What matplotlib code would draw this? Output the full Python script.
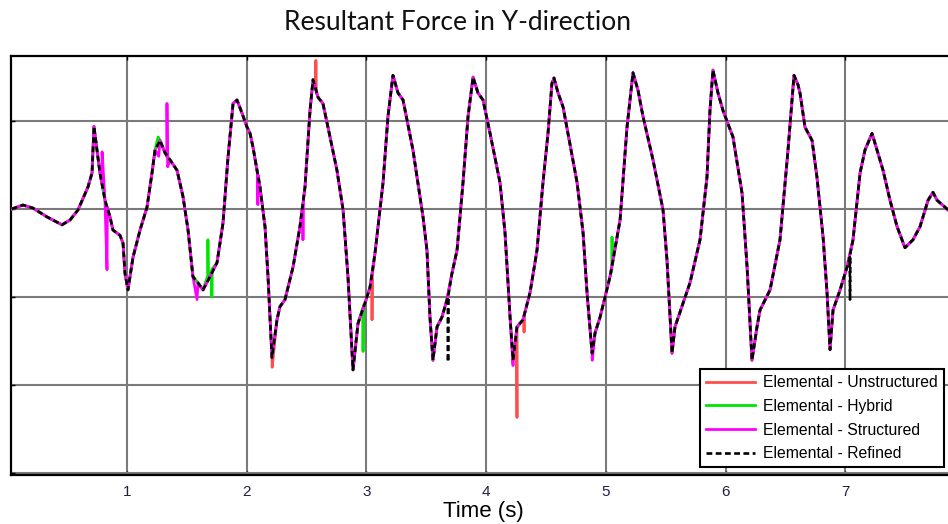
import matplotlib
matplotlib.use("Agg")
import matplotlib.pyplot as plt

# Resultant force history (time in s, force in arbitrary units), shared by all meshes
time = [0.037, 0.131, 0.215, 0.332, 0.457, 0.524, 0.591, 0.674, 0.708, 0.724,
        0.749, 0.774, 0.816, 0.858, 0.883, 0.942, 0.967, 0.983, 1.008, 1.050,
        1.109, 1.167, 1.209, 1.234, 1.276, 1.317, 1.359, 1.418, 1.468, 1.510,
        1.551, 1.593, 1.635, 1.693, 1.752, 1.802, 1.844, 1.886, 1.919, 1.961,
        2.003, 2.028, 2.053, 2.111, 2.153, 2.178, 2.211, 2.253, 2.278, 2.320,
        2.387, 2.445, 2.487, 2.529, 2.554, 2.596, 2.637, 2.679, 2.754, 2.805,
        2.846, 2.888, 2.930, 2.988, 3.030, 3.072, 3.139, 3.180, 3.222, 3.264,
        3.306, 3.389, 3.473, 3.506, 3.531, 3.556, 3.590, 3.631, 3.673, 3.715,
        3.757, 3.807, 3.849, 3.891, 3.932, 3.974, 4.033, 4.116, 4.158, 4.200,
        4.225, 4.258, 4.308, 4.367, 4.425, 4.475, 4.517, 4.550, 4.567, 4.601,
        4.643, 4.684, 4.760, 4.810, 4.843, 4.885, 4.910, 4.952, 5.035, 5.119,
        5.177, 5.227, 5.269, 5.311, 5.394, 5.478, 5.511, 5.553, 5.578, 5.645,
        5.703, 5.787, 5.845, 5.870, 5.895, 5.937, 5.979, 6.062, 6.138, 6.180,
        6.221, 6.263, 6.288, 6.372, 6.455, 6.522, 6.555, 6.572, 6.606, 6.622,
        6.664, 6.723, 6.764, 6.815, 6.848, 6.873, 6.898, 6.957, 7.015, 7.065,
        7.124, 7.165, 7.224, 7.266, 7.316, 7.374, 7.433, 7.499, 7.566, 7.625,
        7.692, 7.733, 7.767, 7.859]
force = [0, 4.5, 1, -9, -18, -12.5, -1, 25, 41, 94,
         67, 41, 10, -9, -24, -30, -39, -73, -92, -55,
         -24, 2, 41, 67, 78, 64, 56, 44, 14, -24,
         -77, -84, -92, -77, -61, -16, 59, 120, 124, 109,
         93, 86, 70, 25, -20, -77, -169, -126, -111, -103,
         -66, -20, 25, 112, 147, 127, 120, 93, 44, -1,
         -77, -183, -130, -107, -89, -50, 30, 105, 152, 132,
         124, 67, -9, -47, -123, -172, -134, -123, -103, -73,
         -47, 30, 105, 150, 132, 124, 86, 30, -27, -123,
         -172, -134, -126, -95, -47, 30, 86, 143, 149, 132,
         116, 86, 30, -27, -95, -164, -141, -123, -77, -12.5,
         93, 155, 135, 105, 56, -1, -58, -164, -134, -107,
         -84, -35, 36, 112, 158, 132, 112, 82, 18, -66,
         -172, -134, -115, -92, -35, 67, 124, 152, 141, 132,
         93, 78, 36, -32, -95, -160, -115, -92, -66, -35,
         41, 67, 86, 67, 44, 10, -20, -44, -35, -20,
         10, 19, 10, -1]

# Extra samples where each mesh departs from the common history (time, force)
unstructured_extra = [(2.213, -180), (2.575, 140), (2.578, 169), (2.582, 132),
                      (3.045, -80), (3.047, -126), (3.050, -75),
                      (4.255, -140), (4.258, -237), (4.262, -134),
                      (4.314, -122), (4.317, -140), (4.320, -120)]
hybrid_extra = [(1.260, 82), (1.674, -76), (1.676, -35), (1.680, -78),
                (1.707, -70), (1.709, -100), (1.712, -68),
                (2.970, -112), (2.972, -162), (2.975, -110),
                (5.050, -70), (5.052, -32), (5.055, -64)]
structured_extra = [(0.790, 30), (0.792, 65), (0.833, -69), (0.836, 2),
                    (1.265, 60), (1.332, 60), (1.334, 120), (1.340, 48),
                    (1.585, -103), (2.090, 40), (2.093, 5), (2.097, 38),
                    (2.467, 5), (2.470, -35), (2.474, 10),
                    (4.225, -178), (4.887, -172)]
refined_extra = [(3.680, -100), (3.682, -174), (3.685, -98),
                 (7.038, -55), (7.040, -103), (7.043, -50)]

labels = ['Elemental - Unstructured', 'Elemental - Hybrid',
          'Elemental - Structured', 'Elemental - Refined']
x_ticks = [1, 2, 3, 4, 5, 6, 7]
y_grid = [-300, -200, -100, 0, 100]


def build(extra):
    pts = sorted(list(zip(time, force)) + extra)
    return [p[0] for p in pts], [p[1] for p in pts]


fig = plt.figure(figsize=(9.48, 5.24), dpi=100)
ax = fig.add_axes([11 / 948, 49 / 524, 944 / 948, 419 / 524])

styles = [
    (unstructured_extra, dict(color='#ff4d4d', lw=2)),
    (hybrid_extra, dict(color='#00e600', lw=2)),
    (structured_extra, dict(color='#ff00ff', lw=2)),
    (refined_extra, dict(color='black', lw=1.9, linestyle=(0, (2.2, 1.3)))),
]
for (extra, st), lab in zip(styles, labels):
    t, f = build(extra)
    ax.plot(t, f, label=lab, zorder=3, **st)

ax.set_xlim(0.031, 7.917)
ax.set_ylim(-302.5, 174)
ax.set_xticks(x_ticks)
ax.set_yticks(y_grid)
ax.grid(True, color='#7a7a7a', lw=1.5, zorder=1)
ax.tick_params(direction='in', length=3, width=1, top=True, colors='black',
               labelleft=False, labelsize=11, pad=7)
for lab in ax.get_xticklabels():
    lab.set_family('Liberation Sans')
    lab.set_color('#202040')
for s in ax.spines.values():
    s.set_linewidth(1.6)
ax.spines['right'].set_visible(False)

ax.set_xlabel('Time (s)', family='Liberation Sans', fontsize=16, labelpad=2)
fig.text(458 / 948, 1 - 23 / 524, 'Resultant Force in Y-direction',
         family='Lato', fontsize=19, ha='center', va='center', color='#111')

leg = ax.legend(loc='upper left', bbox_to_anchor=(700 / 948, 1 - 369 / 524),
                bbox_transform=fig.transFigure, borderaxespad=0,
                fancybox=False, framealpha=1, edgecolor='black',
                prop={'family': 'Liberation Sans', 'size': 11.3},
                handlelength=3.1, handletextpad=0.5, labelspacing=0.55,
                borderpad=0.4)
leg.get_frame().set_linewidth(1.5)

fig.savefig('out.png', dpi=100)
